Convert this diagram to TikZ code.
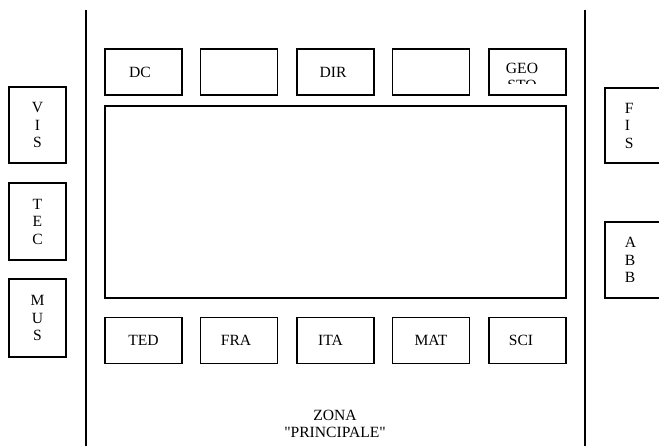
\documentclass[tikz,border=0pt]{standalone}
\usepackage{fontspec}
\setmainfont{Liberation Serif}[Ligatures=TeXOff]
\usetikzlibrary{positioning}

\begin{document}
\begin{tikzpicture}[
    x=1pt, y=-1pt,
    aula/.style={draw, line width=1.7pt, minimum width=77pt,
                 minimum height=46pt, inner sep=0pt,
                 font=\fontsize{15.6}{17.5}\selectfont},
    lato/.style={draw, line width=1.7pt, minimum width=57pt,
                 inner sep=0pt, align=center,
                 font=\fontsize{15.6}{17.5}\selectfont},
    destra/.style={draw, line width=1.7pt, text width=40pt,
                   inner xsep=20pt, inner ysep=0pt, align=left,
                   font=\fontsize{15.6}{17.5}\selectfont},
    muro/.style={line width=1.7pt},
    scritta/.style={align=center, font=\fontsize{15.6}{17.5}\selectfont}
  ]
  \useasboundingbox (0,0) rectangle (659,446);
  \clip (0,0) rectangle (659,446);

  %% --- Walls ---
  \coordinate (ml1) at (86, 10);
  \coordinate (ml2) at (86, 446);
  \coordinate (mr1) at (585, 10);
  \coordinate (mr2) at (585, 446);
  \draw[muro] (ml1) -- (ml2);
  \draw[muro] (mr1) -- (mr2);

  %% --- Main zone ---
  % top row
  \node[aula] (dc)   at (143.5, 72) {\hspace*{-7pt}DC};
  \node[aula] (vuo1) at (239,   72) {};
  \node[aula] (dir)  at (335.5, 72) {\hspace*{-5pt}DIR};
  \node[aula] (vuo2) at (431,   72) {};
  \node[aula] (geo)  at (527.5, 72) {};
  \begin{scope}
    \clip (489, 49) rectangle (566, 84);
    \node[scritta] (geotxt) at (522, 77) {GEO\\STO};
  \end{scope}
  % central hall
  \node[draw, line width=1.7pt, minimum width=461pt,
        minimum height=191.5pt] (atrio) at (335.5, 202) {};
  % bottom row
  \node[aula] (ted) at (143.5, 340.5) {TED};
  \node[aula] (fra) at (239,   340.5) {\hspace*{-6pt}FRA};
  \node[aula] (ita) at (335.5, 340.5) {\hspace*{-10pt}ITA};
  \node[aula] (mat) at (431,   340.5) {MAT};
  \node[aula] (sci) at (527.5, 340.5) {\hspace*{-13pt}SCI};
  \node[scritta] (zona) at (335, 424) {ZONA\\"PRINCIPALE"};

  %% --- Left side ---
  \node[lato, minimum height=76pt] (vis) at (37.5, 125)   {V\\I\\S};
  \node[lato, minimum height=77pt] (tec) at (37.5, 221.5) {T\\E\\C};
  \node[lato, minimum height=78pt] (mus) at (37.5, 318)   {M\\U\\S};

  %% --- Right side ---
  \node[destra, minimum height=75pt, anchor=west] (fis) at (604, 125.5) {F\\I\\S};
  \node[destra, minimum height=76pt, anchor=west] (abb) at (604, 260)   {A\\B\\B};
\end{tikzpicture}
\end{document}
